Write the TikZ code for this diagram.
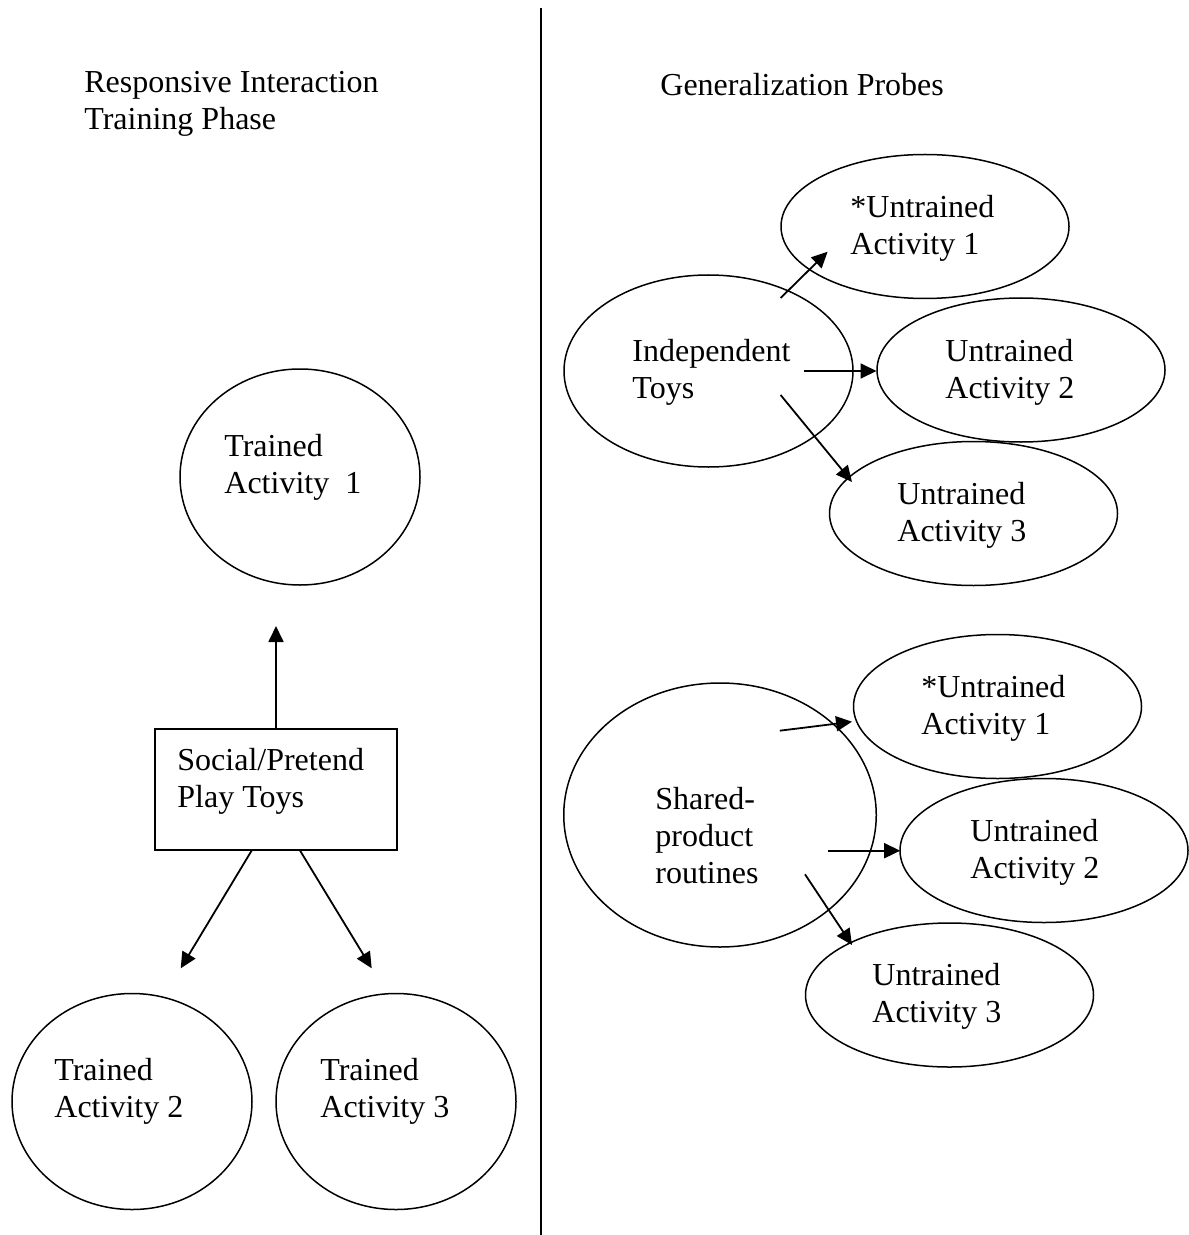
\documentclass[tikz,border=0pt]{standalone}
\usepackage{fontspec}
\setmainfont{Liberation Serif}
\usetikzlibrary{shapes.geometric,arrows.meta}

\begin{document}
\begin{tikzpicture}[x=0.5pt, y=-0.5pt,
    oval/.style={draw, ellipse, line width=0.75pt, inner sep=0pt},
    probe/.style={oval, minimum width=144pt, minimum height=72pt},
    trained/.style={oval, minimum width=120pt, minimum height=108pt},
    toybox/.style={draw, rectangle, line width=1pt, inner sep=0pt},
    txt/.style={align=left, anchor=west, inner sep=0pt, font=\fontsize{16}{18.5}\selectfont},
    arrow/.style={-{Triangle[length=8pt,width=7.5pt]}, line width=0.9pt}
  ]
  \useasboundingbox (0,0) rectangle (1188,1235);

  % Divider
  \draw[line width=1pt] (541,8) -- (541,1235);

  % Headings
  \node[txt] (hdleft) at (84,104) {Responsive Interaction\\Training Phase};
  \node[txt] (hdright) at (660,85) {Generalization Probes};

  % Training phase
  \node[trained] (tr1) at (300,477) {};
  \node[txt] (tr1txt) at (224,467) {Trained\\Activity \ 1};
  \node[toybox, minimum width=120.85pt, minimum height=60.5pt] (toys) at (276,789) {};
  \node[txt] (toystxt) at (177,781) {Social/Pretend\\Play Toys};
  \node[trained] (tr2) at (132,1101.5) {};
  \node[txt] (tr2txt) at (54,1091) {Trained\\Activity 2};
  \node[trained] (tr3) at (396,1101.5) {};
  \node[txt] (tr3txt) at (320,1091) {Trained\\Activity 3};

  \coordinate (up) at (276,626);
  \coordinate (dl) at (180.7,968.3);
  \coordinate (dr) at (371.7,968.3);
  \draw[arrow] (toys.north) -- (up);
  \draw[arrow] ([xshift=-12.15pt]toys.south) -- (dl);
  \draw[arrow] ([xshift=12pt]toys.south) -- (dr);

  % Independent toys probes
  \node[oval, minimum width=144.5pt, minimum height=96pt] (indep) at (708.5,371) {};
  \node[txt] (indeptxt) at (632,372) {Independent\\Toys};
  \node[probe] (ua1) at (925,226.5) {};
  \node[txt] (ua1txt) at (850,228) {*Untrained\\Activity 1};
  \node[probe] (ua2) at (1021,370) {};
  \node[txt] (ua2txt) at (945,372) {Untrained\\Activity 2};
  \node[probe] (ua3) at (973.5,513.5) {};
  \node[txt] (ua3txt) at (897,515) {Untrained\\Activity 3};

  \coordinate (ia1) at (780.6,298);
  \coordinate (ia2) at (804,371);
  \coordinate (ia3) at (780.6,395);
  \coordinate (ua1in) at (827.6,251.7);
  \coordinate (ua2in) at (876.5,371);
  \coordinate (ua3in) at (852,482);
  \draw[arrow] (ia1) -- (ua1in);
  \draw[arrow] (ia2) -- (ua2in);
  \draw[arrow] (ia3) -- (ua3in);

  % Shared-product probes
  \node[oval, minimum width=156.25pt, minimum height=132pt] (shared) at (720,815) {};
  \node[txt] (sharedtxt) at (655,836) {Shared-\\product\\routines};
  \node[probe] (ub1) at (997.5,706.5) {};
  \node[txt] (ub1txt) at (921,708) {*Untrained\\Activity 1};
  \node[probe] (ub2) at (1044,850.5) {};
  \node[txt] (ub2txt) at (970,852) {Untrained\\Activity 2};
  \node[probe] (ub3) at (949.5,995) {};
  \node[txt] (ub3txt) at (872,996) {Untrained\\Activity 3};

  \coordinate (sb1) at (779.8,730.7);
  \coordinate (sb2) at (828.4,850.7);
  \coordinate (sb3) at (805,874.3);
  \coordinate (ub1in) at (852,721.7);
  \coordinate (ub2in) at (900.2,850.7);
  \coordinate (ub3in) at (852,945);
  \draw[arrow] (sb1) -- (ub1in);
  \draw[arrow] (sb2) -- (ub2in);
  \draw[arrow] (sb3) -- (ub3in);

\end{tikzpicture}
\end{document}
